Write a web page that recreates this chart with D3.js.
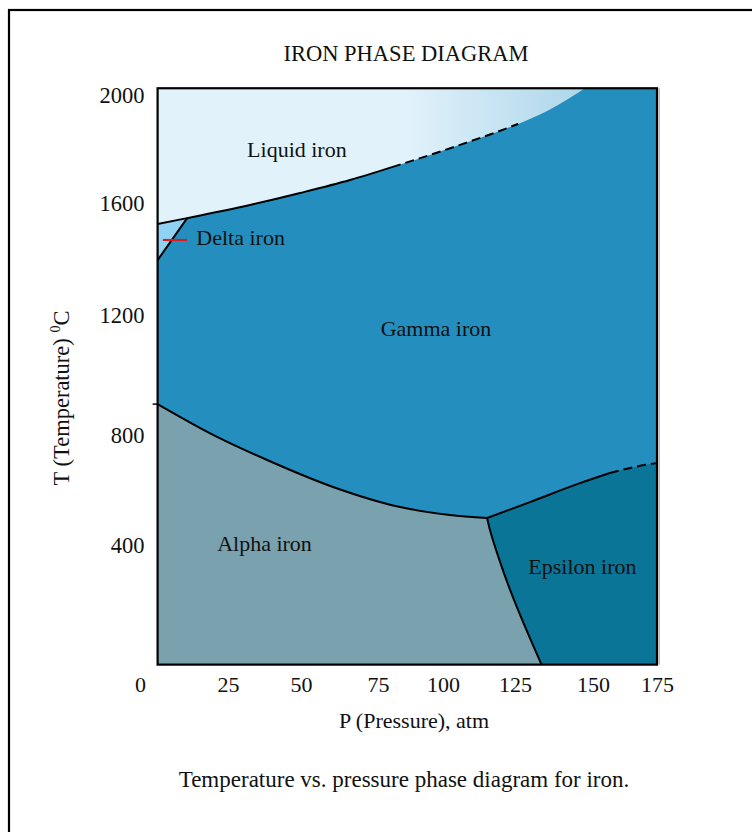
<!DOCTYPE html>
<html><head><meta charset="utf-8">
<script src="https://cdn.jsdelivr.net/npm/d3@7"></script>
<style>
body{margin:0;background:#fff}
svg{display:block}
text{font-family:"Liberation Serif","Times New Roman",serif;fill:#111}
</style>
</head><body>
<svg id="c" width="752" height="832"></svg>
<script>
// ---------- data ----------
const chartTitle = "IRON PHASE DIAGRAM";
const xTitle = "P (Pressure), atm";
const yTitleMain = "T (Temperature) ";
const yTitleSup = "0";
const yTitleUnit = "C";
const caption = "Temperature vs. pressure phase diagram for iron.";

const pressureTicks = [0, 25, 50, 75, 100, 125, 150, 175];
const temperatureTicks = [400, 800, 1200, 1600, 2000];
const temperatureScaleStops = [0, 400, 800, 1200, 1600, 2000];
const pressureExtent = [5, 175];
const temperatureExtent = [-35, 2025];

// phase boundaries, [pressure, temperature]
const liquidusSolid = [[5,1525],[13.4,1546],[32.5,1593],[49.7,1637],[65.9,1685],[80.4,1733]];
const liquidusDashed = [[80.4,1733],[95,1778],[106.9,1819],[118.7,1863],[126,1893]];
const liquidusUnmarked = [[126,1893],[135.3,1941],[142,1985],[147.4,2025]];
const deltaGamma = [[13.4,1546],[5,1396]];
const gammaAlpha = [[5,903],[21.9,793],[38.4,709],[60.4,611],[83.5,538],[102.4,509],[115.3,498]];
const gammaAlphaStub = [[3.6,903],[5,903]];
const alphaEpsilon = [[115.3,498],[116.6,440],[118.8,370],[122.0,270],[126.6,145],[130.6,40],[133.5,-35]];
const gammaEpsilonSolid = [[115.3,498],[129.8,556],[145.8,625],[156.6,662]];
const gammaEpsilonDashed = [[156.6,662],[166.4,684],[175,698]];
const deltaMarker = [[6.5,1468],[13.4,1468]];

const phaseNames = ["Liquid iron", "Delta iron", "Gamma iron", "Alpha iron", "Epsilon iron"];
const phaseLabelP = [48.6, 16.0, 97.3, 37.5, 146.6];
const phaseLabelT = [1800, 1478, 1157, 407, 324];
const phaseLabelAnchor = ["middle", "start", "middle", "middle", "middle"];

// ---------- drawing ----------
const svg = d3.select("#c");
const x = d3.scaleLinear().domain(pressureTicks).range([140, 228, 301, 378, 443, 515, 593, 657]);
const y = d3.scaleLinear().domain(temperatureScaleStops).range([655, 545, 435, 315, 203, 95]);

const colors = {gamma:"#248EBE", alpha:"#79A1AE", epsilon:"#0B7597", delta:"#8FD2F4", liquidA:"#E2F2FB", liquidB:"#ABD5E9"};

// outer frame
svg.append("rect").attr("x", 9).attr("y", 10).attr("width", 800).attr("height", 900)
  .attr("fill", "none").attr("stroke", "#000").attr("stroke-width", 2.2);

const px0 = x(pressureExtent[0]), px1 = x(pressureExtent[1]);
const py0 = y(temperatureExtent[0]), py1 = y(temperatureExtent[1]);

const defs = svg.append("defs");
defs.append("clipPath").attr("id", "plotClip").append("rect")
  .attr("x", px0).attr("y", py1).attr("width", px1 - px0).attr("height", py0 - py1);
const grad = defs.append("linearGradient").attr("id", "liqGrad")
  .attr("gradientUnits", "userSpaceOnUse").attr("x1", x(85)).attr("x2", x(150)).attr("y1", 0).attr("y2", 0);
grad.append("stop").attr("offset", 0).attr("stop-color", colors.liquidA);
grad.append("stop").attr("offset", 1).attr("stop-color", colors.liquidB);

const lineX = d3.line().x(d => x(d[0])).y(d => y(d[1])).curve(d3.curveMonotoneX);
const lineB = d3.line().x(d => x(d[0])).y(d => y(d[1])).curve(d3.curveBasis);
const cont = path => path.replace(/^M/, "L");
const P = (p, t) => `L${x(p)},${y(t)}`;

const regions = svg.append("g").attr("clip-path", "url(#plotClip)");
regions.append("rect").attr("x", px0).attr("y", py1).attr("width", px1 - px0).attr("height", py0 - py1)
  .attr("fill", colors.gamma);

const liquidus = liquidusSolid.concat(liquidusDashed.slice(1), liquidusUnmarked.slice(1));
const pMin = pressureExtent[0], pMax = pressureExtent[1], tMin = temperatureExtent[0], tMax = temperatureExtent[1];

regions.append("path").attr("fill", "url(#liqGrad)")
  .attr("d", lineX(liquidus) + P(pMin, tMax) + "Z");

regions.append("path").attr("fill", colors.delta)
  .attr("d", `M${x(liquidusSolid[0][0])},${y(liquidusSolid[0][1])}` + P(deltaGamma[0][0], deltaGamma[0][1]) + P(deltaGamma[1][0], deltaGamma[1][1]) + "Z");

regions.append("path").attr("fill", colors.alpha)
  .attr("d", lineX(gammaAlpha) + cont(lineB(alphaEpsilon)) + P(pMin, tMin) + "Z");

const gammaEpsilon = gammaEpsilonSolid.concat(gammaEpsilonDashed.slice(1));
regions.append("path").attr("fill", colors.epsilon)
  .attr("d", lineX(gammaEpsilon) + P(pMax, tMin) + cont(lineB(alphaEpsilon.slice().reverse())) + "Z");

// boundary lines
const lines = svg.append("g").attr("fill", "none").attr("stroke", "#000").attr("stroke-width", 2);
lines.append("path").attr("d", lineX(liquidusSolid));
lines.append("path").attr("d", lineX(liquidusDashed)).attr("stroke-dasharray", "9,5");
lines.append("path").attr("d", lineX(deltaGamma.slice().reverse()));
lines.append("path").attr("d", lineX(gammaAlpha));
lines.append("path").attr("d", lineX(gammaAlphaStub)).attr("stroke-width", 1.5);
lines.append("path").attr("d", lineB(alphaEpsilon));
lines.append("path").attr("d", lineX(gammaEpsilonSolid));
lines.append("path").attr("d", lineX(gammaEpsilonDashed)).attr("stroke-dasharray", "9,5");

svg.append("path").attr("d", lineX(deltaMarker)).attr("stroke", "#E8141B").attr("stroke-width", 2).attr("fill", "none");

// plot border
svg.append("rect").attr("x", px1 + 1.5).attr("y", py1).attr("width", 1.5).attr("height", py0 - py1).attr("fill", "#bbb");
svg.append("rect").attr("x", px0).attr("y", py1).attr("width", px1 - px0).attr("height", py0 - py1)
  .attr("fill", "none").attr("stroke", "#000").attr("stroke-width", 2.2);

// labels
svg.append("g").selectAll("text").data(phaseNames).join("text")
  .attr("x", (d, i) => x(phaseLabelP[i])).attr("y", (d, i) => y(phaseLabelT[i]))
  .attr("dy", "0.35em").attr("text-anchor", (d, i) => phaseLabelAnchor[i])
  .style("font-size", "22px").text(d => d);

// axes
const xAxis = svg.append("g").attr("transform", `translate(0,${py0})`)
  .call(d3.axisBottom(x).tickValues(pressureTicks).tickSize(0).tickPadding(12).tickFormat(d3.format("d")));
xAxis.select(".domain").remove();
xAxis.selectAll("text").style("font-size", "22px").attr("font-family", null);

const yAxis = svg.append("g").attr("transform", `translate(${px0},0)`)
  .call(d3.axisLeft(y).tickValues(temperatureTicks).tickSize(0).tickPadding(13).tickFormat(d3.format("d")));
yAxis.select(".domain").remove();
yAxis.selectAll("text").style("font-size", "22.5px").attr("font-family", null);
svg.selectAll(".tick text").attr("fill", "#111");

// titles
svg.append("text").attr("x", 406).attr("y", 61).attr("text-anchor", "middle").style("font-size", "22.5px").text(chartTitle);
svg.append("text").attr("x", 414).attr("y", 728).attr("text-anchor", "middle").style("font-size", "22px").text(xTitle);
svg.append("text").attr("x", 404).attr("y", 787).attr("text-anchor", "middle").style("font-size", "23px").text(caption);
const yt = svg.append("text").attr("transform", "translate(69,398) rotate(-90)").attr("text-anchor", "middle").style("font-size", "22.5px");
yt.append("tspan").text(yTitleMain);
yt.append("tspan").attr("dy", -9).style("font-size", "14px").text(yTitleSup);
yt.append("tspan").attr("dy", 9).text(yTitleUnit);
</script>
</body></html>
